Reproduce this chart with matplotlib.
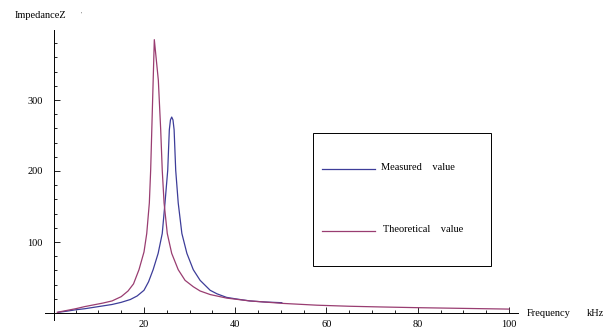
import matplotlib
matplotlib.use("Agg")
import matplotlib.pyplot as plt
import numpy as np
from matplotlib.patches import Rectangle

plt.rcParams['font.family'] = ['Liberation Serif', 'DejaVu Serif']

# data (frequency kHz, impedance)
meas_x = [1.2, 3, 5, 7, 9, 11, 13, 15, 17, 18.5, 20, 21, 22, 23.1, 24.0, 24.6,
          25.2, 25.55, 25.8, 26.07, 26.35, 26.6, 26.95, 27.5, 28.3, 29.4, 30.8,
          32.3, 34.5, 36, 38.1, 40.5, 43.2, 46.5, 50.2]
meas_y = [1, 2.5, 4.5, 6, 8, 10, 12, 15, 19, 24, 32, 44, 61, 84, 112, 155,
          201, 258, 272, 276, 272, 258, 201, 155, 112, 84, 61,
          46, 32, 27, 22, 19.5, 17, 15.5, 14.5]

theo_x = [1, 3, 5, 7, 9, 11, 13, 15, 16.5, 17.7, 18.9, 20, 20.6, 21.17, 21.46,
          22.26, 23.14, 23.66, 24.0, 24.4, 25.1, 26.07, 27.5, 29.0, 30.8, 32.3,
          34.5, 38.1, 43.2, 50.5, 57.9, 65, 72, 80, 90, 100]
theo_y = [1, 3.5, 6, 9, 11.5, 14, 17, 23, 31, 41, 61, 86, 112, 155, 201,
          385, 328, 258, 201, 155, 112, 84, 61, 46, 37, 31,
          26, 21, 17, 13.5, 11, 9.5, 8.5, 7.5, 6.5, 5.5]

x_major = [20, 40, 60, 80, 100]
y_major = [100, 200, 300]

W, H = 613, 329
fig = plt.figure(figsize=(W / 100, H / 100), dpi=100)
ax = fig.add_axes([0, 0, 1, 1])

# pixel mapping: x=0 -> 52.75px, 4.5625 px/unit ; y=0 -> 313px, 0.71 px/unit
ax.set_xlim(-52.75 / 4.5625, (W - 52.75) / 4.5625)
ax.set_ylim(-(H - 313) / 0.71, 313 / 0.71)

ax.plot(meas_x, meas_y, color='#3d3d99', lw=0.9)
ax.plot(theo_x, theo_y, color='#993d71', lw=0.9)

for s in ['top', 'right']:
    ax.spines[s].set_visible(False)
ax.spines['left'].set_position(('data', 0.25))
ax.spines['left'].set_bounds(-10, 398)
ax.spines['bottom'].set_position(('data', 0))
ax.spines['bottom'].set_bounds(-1.7, 102)
for s in ['left', 'bottom']:
    ax.spines[s].set_linewidth(0.7)

ax.set_xticks(x_major)
ax.set_xticks([v for v in range(5, 101, 5) if v not in x_major], minor=True)
ax.set_yticks(y_major)
ax.set_yticks([v for v in range(20, 400, 20) if v not in y_major], minor=True)
ax.tick_params(which='both', direction='in', width=0.6, labelsize=7.5)
ax.tick_params(which='major', length=4)
ax.tick_params(which='minor', length=2)
ax.tick_params(axis='y', pad=8)
ax.tick_params(axis='x', pad=5)

fig.text(15 / W, 1 - 16 / H, 'ImpedanceZ', fontsize=7.5, va='center', ha='left')
fig.text(81 / W, 1 - 14 / H, "'", fontsize=5, va='center', ha='center', color='#555555')
fig.text(527 / W, 1 - 313 / H, 'Frequency', fontsize=7.5, va='center', ha='left')
fig.text(587 / W, 1 - 313 / H, 'kHz', fontsize=7.5, va='center', ha='left')

# legend box
fig.patches.append(Rectangle((313 / W, 1 - 266 / H), 178 / W, 133 / H,
                             transform=fig.transFigure, fill=False, ec='black', lw=0.7))
fig.lines.append(plt.Line2D([322 / W, 375 / W], [1 - 169 / H, 1 - 169 / H],
                            transform=fig.transFigure, color='#3d3d99', lw=0.9))
fig.lines.append(plt.Line2D([322 / W, 375 / W], [1 - 231 / H, 1 - 231 / H],
                            transform=fig.transFigure, color='#993d71', lw=0.9))
fig.text(381 / W, 1 - 168 / H, 'Measured    value', fontsize=7.5, va='center', ha='left')
fig.text(383 / W, 1 - 230 / H, 'Theoretical    value', fontsize=7.5, va='center', ha='left')

fig.savefig('out.png', dpi=100)
